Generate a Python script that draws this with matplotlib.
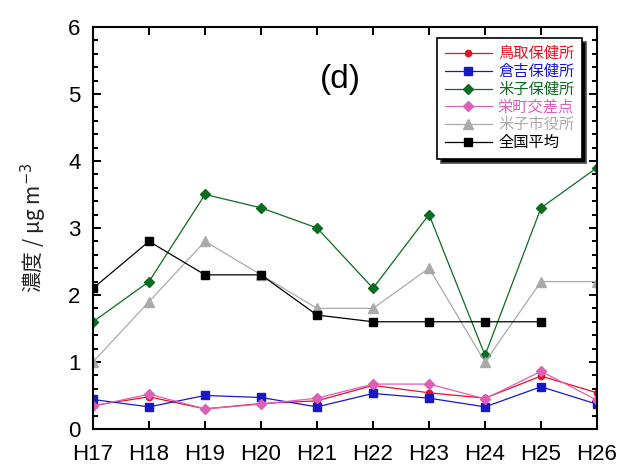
import matplotlib.pyplot as plt
from matplotlib.ticker import MultipleLocator

plt.rcParams['font.family'] = ['Liberation Sans', 'Noto Sans CJK JP', 'DejaVu Sans']

years = ['H17', 'H18', 'H19', 'H20', 'H21', 'H22', 'H23', 'H24', 'H25', 'H26']

tottori = [0.35, 0.48, 0.30, 0.38, 0.42, 0.65, 0.54, 0.46, 0.79, 0.54]
kurayoshi = [0.44, 0.33, 0.50, 0.47, 0.33, 0.53, 0.46, 0.33, 0.63, 0.37]
yonago = [1.6, 2.2, 3.5, 3.3, 3.0, 2.1, 3.2, 1.1, 3.3, 3.9]
sakaemachi = [0.34, 0.52, 0.30, 0.37, 0.46, 0.67, 0.67, 0.45, 0.86, 0.43]
yonago_city = [1.0, 1.9, 2.8, 2.3, 1.8, 1.8, 2.4, 1.0, 2.2, 2.2]
national = [2.1, 2.8, 2.3, 2.3, 1.7, 1.6, 1.6, 1.6, 1.6]

fig = plt.figure(figsize=(6.21, 4.67), dpi=100)
ax = fig.add_axes([0.1498, 0.0814, 0.8116, 0.861])

x = list(range(len(years)))

ax.plot(x, tottori, color='#e81020', marker='o', markersize=4.5, lw=0.9, label='鳥取保健所')
ax.plot(x, kurayoshi, color='#1818c8', marker='s', markersize=6, lw=0.9, label='倉吉保健所')
ax.plot(x, yonago, color='#0b6b21', marker='D', markersize=5.5, lw=0.9, label='米子保健所')
ax.plot(x, sakaemachi, color='#dd60b8', marker='D', markersize=5.5, lw=0.9, label='栄町交差点')
ax.plot(x, yonago_city, color='#aaaaaa', marker='^', markersize=6.5, lw=0.9, label='米子市役所')
ax.plot(x[:len(national)], national, color='black', marker='s', markersize=6, lw=0.9, label='全国平均')

ax.set_xlim(0, 9)
ax.set_ylim(0, 6)
ax.set_xticks(x)
ax.set_xticklabels(years)
ax.yaxis.set_major_locator(MultipleLocator(1))
ax.yaxis.set_minor_locator(MultipleLocator(0.2))
ax.tick_params(axis='both', which='both', direction='in', top=True, right=True, width=1.4)
ax.tick_params(axis='both', which='major', length=6, labelsize=16)
ax.tick_params(axis='x', which='major', pad=11)
ax.tick_params(axis='y', which='major', pad=9)
ax.tick_params(axis='y', which='minor', length=3.5)
for s in ax.spines.values():
    s.set_linewidth(1.5)

ax.set_ylabel('濃度 / μg m$^{-3}$', fontsize=15, color='#222222', labelpad=14,
              family=['Noto Sans CJK JP', 'DejaVu Sans'])
ax.text(0.49, 0.868, '(d)', transform=ax.transAxes, fontsize=24, ha='center', va='center')

leg = ax.legend(loc='upper right', bbox_to_anchor=(0.970, 0.973), borderaxespad=0,
                fancybox=False,
                shadow={'ox': 3, 'oy': -3, 'facecolor': 'black', 'alpha': 1},
                framealpha=1, edgecolor='black', handlelength=3.1,
                borderpad=0.5, labelspacing=0.05, handletextpad=0.4,
                prop={'family': ['Noto Sans CJK JP', 'DejaVu Sans'], 'size': 11})
leg.get_frame().set_linewidth(1.2)
for line, text in zip(leg.get_lines(), leg.get_texts()):
    text.set_color(line.get_color())

fig.savefig('out.png', dpi=100)
